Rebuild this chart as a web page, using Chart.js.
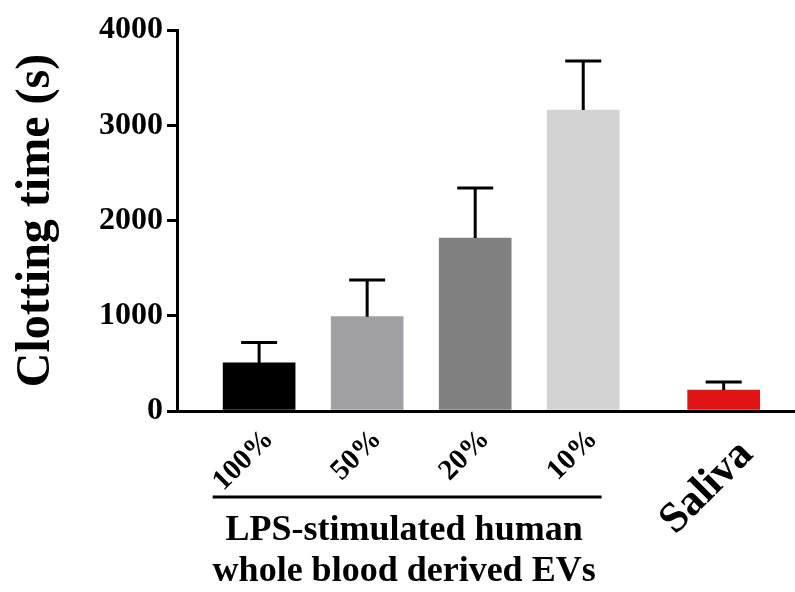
<!DOCTYPE html>
<html>
<head>
<meta charset="utf-8">
<script src="https://cdn.jsdelivr.net/npm/chart.js@4.4.1/dist/chart.umd.min.js"></script>
<style>
  body { margin: 0; background: #fff; }
  #wrap { width: 795px; height: 592px; }
</style>
</head>
<body>
<div id="wrap"><canvas id="chart" width="795" height="592"></canvas></div>
<script>
const labels = ["100%", "50%", "20%", "10%", "Saliva"];
const xPos = [1, 2, 3, 4, 5.3];
const means = [505, 990, 1815, 3160, 220];
const errors = [215, 385, 525, 515, 85];
const colors = ["#000000", "#a0a0a4", "#808080", "#d3d3d3", "#e01414"];
const yTicks = [0, 1000, 2000, 3000, 4000];
const groupLabel = ["LPS-stimulated human", "whole blood derived EVs"];

const serif = "'Liberation Serif', 'Times New Roman', serif";

const errorBars = {
  id: "errorBars",
  afterDatasetsDraw(chart) {
    const { ctx, scales: { x, y } } = chart;
    ctx.save();
    ctx.strokeStyle = "#000";
    ctx.lineWidth = 3;
    means.forEach((m, i) => {
      const px = x.getPixelForValue(xPos[i]);
      const top = y.getPixelForValue(m + errors[i]);
      ctx.beginPath();
      ctx.moveTo(px, y.getPixelForValue(m));
      ctx.lineTo(px, top);
      ctx.moveTo(px - 18, top);
      ctx.lineTo(px + 18, top);
      ctx.stroke();
    });
    ctx.restore();
  }
};

// rotated category labels, bracket line and caption under the bars
const xLabels = {
  id: "xLabels",
  afterDraw(chart) {
    const { ctx, scales: { x, y } } = chart;
    const base = y.getPixelForValue(0);
    ctx.save();
    ctx.fillStyle = "#000";
    ctx.textAlign = "right";
    ctx.textBaseline = "middle";
    labels.forEach((lab, i) => {
      const last = i === labels.length - 1;
      const px = x.getPixelForValue(xPos[i]);
      ctx.save();
      ctx.translate(px + (last ? 23 : 10), base + (last ? 37 : 24));
      ctx.rotate(-Math.PI / 4);
      ctx.font = "bold " + (last ? 43 : 29) + "px " + serif;
      ctx.fillText(lab, 0, 0);
      ctx.restore();
    });

    const x0 = x.getPixelForValue(0.57), x1 = x.getPixelForValue(4.17);
    const mid = (x0 + x1) / 2 - 3;
    ctx.strokeStyle = "#000";
    ctx.lineWidth = 3;
    ctx.beginPath();
    ctx.moveTo(x0, 497);
    ctx.lineTo(x1, 497);
    ctx.stroke();
    ctx.font = "bold 36px " + serif;
    ctx.textAlign = "center";
    ctx.textBaseline = "alphabetic";
    ctx.fillText(groupLabel[0], mid, 540);
    ctx.fillText(groupLabel[1], mid, 581);
    ctx.restore();
  }
};

new Chart(document.getElementById("chart"), {
  type: "bar",
  data: {
    datasets: [{
      data: xPos.map((v, i) => ({ x: v, y: means[i] })),
      backgroundColor: colors,
      borderWidth: 0,
      barThickness: 72
    }]
  },
  options: {
    responsive: false,
    animation: false,
    layout: { padding: { top: 30, right: 0, left: 0, bottom: 0 } },
    plugins: { legend: { display: false }, tooltip: { enabled: false } },
    scales: {
      x: {
        type: "linear",
        offset: false,
        min: 0.24,
        max: 5.96,
        grid: { display: false },
        border: { display: true, color: "#000", width: 3 },
        afterBuildTicks: s => { s.ticks = xPos.map(v => ({ value: v })); },
        afterFit: s => { s.height = 181; },
        ticks: { display: false }
      },
      y: {
        min: 0,
        max: 4000,
        afterBuildTicks: s => { s.ticks = yTicks.map(v => ({ value: v })); },
        afterFit: s => { s.width = 177; },
        grid: { drawOnChartArea: false, drawTicks: true, tickLength: 10, lineWidth: 3, color: "#000" },
        border: { display: true, color: "#000", width: 3 },
        ticks: {
          color: "#000",
          padding: 4,
          font: { family: serif, weight: "bold", size: 32 },
          callback: v => String(v)
        },
        title: {
          display: true,
          text: "Clotting time (s)",
          color: "#000",
          padding: { top: 8 },
          font: { family: serif, weight: "bold", size: 48 }
        }
      }
    }
  },
  plugins: [errorBars, xLabels]
});
</script>
</body>
</html>
